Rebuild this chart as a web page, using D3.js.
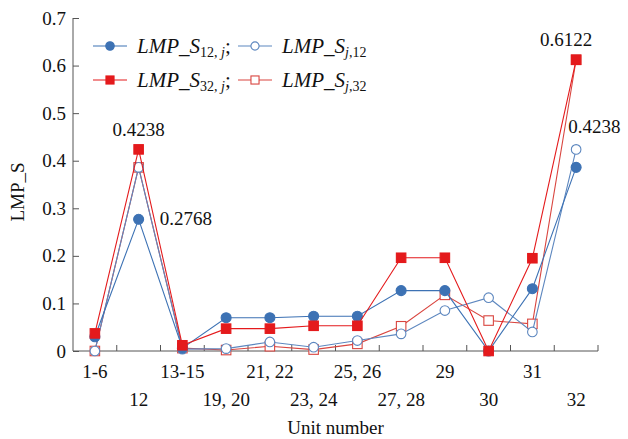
<!DOCTYPE html>
<html>
<head>
<meta charset="utf-8">
<script src="https://cdn.jsdelivr.net/npm/d3@7/dist/d3.min.js"></script>
<style>
  body { margin: 0; background: #fff; }
  text { font-family: "Liberation Serif", "Times New Roman", serif; fill: #111; }
</style>
</head>
<body>
<div id="chart"></div>
<script>
// unit groups on the x axis
const units = ["1-6", "12", "13-15", "19, 20", "21, 22", "23, 24", "25, 26", "27, 28", "29", "30", "31", "32"];

// values
const s12j = [0.030, 0.2768, 0.006, 0.070, 0.070, 0.073, 0.073, 0.127, 0.127, 0.000, 0.131, 0.386];
const sj12 = [0.000, 0.386, 0.004, 0.005, 0.019, 0.008, 0.022, 0.036, 0.085, 0.112, 0.040, 0.4238];
const s32j = [0.037, 0.4238, 0.012, 0.047, 0.047, 0.053, 0.053, 0.196, 0.196, 0.000, 0.195, 0.6122];
const sj32 = [0.000, 0.386, 0.006, 0.002, 0.010, 0.003, 0.015, 0.052, 0.118, 0.064, 0.057, 0.6122];

const yTicks = [0, 0.1, 0.2, 0.3, 0.4, 0.5, 0.6, 0.7];

// value labels: [unit, value, anchor, dx, dy]
const notes = [
  ["12", 0.4238, "middle", 0, -13],
  ["12", 0.2768, "start", 21, 6],
  ["32", 0.6122, "middle", -10, -14],
  ["32", 0.4238, "start", -8, -16]
];

const W = 628, H = 439;
const margin = { top: 18, right: 30, bottom: 88, left: 73 };
const width = W - margin.left - margin.right,
  height = H - margin.top - margin.bottom;

const svg = d3.select("#chart").append("svg")
  .attr("width", W).attr("height", H);
const g = svg.append("g")
  .attr("transform", "translate(" + margin.left + "," + margin.top + ")");

const x = d3.scaleBand().domain(units).range([0, width]);
const y = d3.scaleLinear().domain([0, 0.7]).range([height, 0]);
const cx = d => x(d) + x.bandwidth() / 2;

// axes
const axisColor = "#555";
const yAxis = g.append("g")
  .call(d3.axisLeft(y).tickValues(yTicks).tickSize(-6).tickPadding(7)
    .tickFormat(d => d === 0 ? "0" : d3.format(".1f")(d)));
yAxis.select(".domain").attr("stroke", axisColor).attr("d", "M0," + height + "V0");
yAxis.selectAll(".tick line").attr("stroke", axisColor);
yAxis.selectAll(".tick text").attr("font-size", 19).attr("font-family", "Liberation Serif").attr("fill", "#111");

const xAxis = g.append("g").attr("transform", "translate(0," + height + ")");
xAxis.append("line").attr("x1", 0).attr("x2", width).attr("stroke", axisColor);
xAxis.selectAll(".bound")
  .data(units.slice(1).concat(["end"]))
  .enter().append("line")
  .attr("x1", (d, i) => (i + 1) * x.step()).attr("x2", (d, i) => (i + 1) * x.step())
  .attr("y1", 0).attr("y2", -6).attr("stroke", axisColor);
xAxis.selectAll(".lab")
  .data(units).enter().append("text")
  .attr("x", d => cx(d))
  .attr("y", (d, i) => i % 2 === 0 ? 27 : 55)
  .attr("text-anchor", "middle")
  .attr("font-size", 19)
  .text(d => d);

svg.append("text")
  .attr("x", margin.left + width / 2).attr("y", 434)
  .attr("text-anchor", "middle").attr("font-size", 19)
  .text("Unit number");

svg.append("text")
  .attr("transform", "translate(24,192) rotate(-90)")
  .attr("text-anchor", "middle").attr("font-size", 19)
  .text("LMP_S");

// series
const series = [
  { key: "sj32", values: sj32, color: "#d9453f", shape: "square", filled: false },
  { key: "sj12", values: sj12, color: "#5d87bf", shape: "circle", filled: false },
  { key: "s12j", values: s12j, color: "#3d72b4", shape: "circle", filled: true },
  { key: "s32j", values: s32j, color: "#e41a1c", shape: "square", filled: true }
];

const line = d3.line().x(d => cx(d.u)).y(d => y(d.v));

function drawMarker(sel, s, k) {
  k = k || 1;
  if (s.shape === "circle") {
    sel.append("circle").attr("r", (s.filled ? 5 : 4.8) * k)
      .attr("fill", s.filled ? s.color : "#fff")
      .attr("stroke", s.color).attr("stroke-width", 1.1);
  } else {
    const a = 9.5 * k;
    sel.append("rect").attr("x", -a / 2).attr("y", -a / 2).attr("width", a).attr("height", a)
      .attr("fill", s.filled ? s.color : "#fff")
      .attr("stroke", s.color).attr("stroke-width", 1.1);
  }
}

series.forEach(s => {
  const pts = units.map((u, i) => ({ u: u, v: s.values[i] }));
  g.append("path").datum(pts)
    .attr("fill", "none").attr("stroke", s.color).attr("stroke-width", 1.1)
    .attr("d", line);
  pts.forEach(p => {
    const m = g.append("g").attr("transform", "translate(" + cx(p.u) + "," + y(p.v) + ")");
    drawMarker(m, s);
  });
});

// value labels
notes.forEach(n => {
  g.append("text")
    .attr("x", cx(n[0]) + n[3]).attr("y", y(n[1]) + n[4])
    .attr("text-anchor", n[2]).attr("font-size", 19)
    .text(d3.format(".4f")(n[1]));
});

// legend
const legend = [
  { s: series[2], main: "LMP_S", sub: [["12, ", false], ["j", true]], semi: true, x: 20, y: 28 },
  { s: series[1], main: "LMP_S", sub: [["j", true], [",12", false]], semi: false, x: 165, y: 28 },
  { s: series[3], main: "LMP_S", sub: [["32, ", false], ["j", true]], semi: true, x: 20, y: 62 },
  { s: series[0], main: "LMP_S", sub: [["j", true], [",32", false]], semi: false, x: 165, y: 62 }
];
legend.forEach(l => {
  const lg = g.append("g").attr("transform", "translate(" + l.x + "," + l.y + ")");
  lg.append("line").attr("x1", 0).attr("x2", 34).attr("stroke", l.s.color).attr("stroke-width", 1.1);
  const m = lg.append("g").attr("transform", "translate(17,0)");
  drawMarker(m, l.s, 0.85);
  const t = lg.append("text").attr("x", 44).attr("y", 7).attr("font-size", 21);
  t.append("tspan").attr("font-style", "italic").text(l.main);
  l.sub.forEach((p, i) => {
    t.append("tspan").attr("font-size", 14)
      .attr("dy", i === 0 ? 4 : 0)
      .attr("font-style", p[1] ? "italic" : "normal").text(p[0]);
  });
  if (l.semi) t.append("tspan").attr("dy", -4).attr("font-size", 21).text(";");
});
</script>
</body>
</html>
